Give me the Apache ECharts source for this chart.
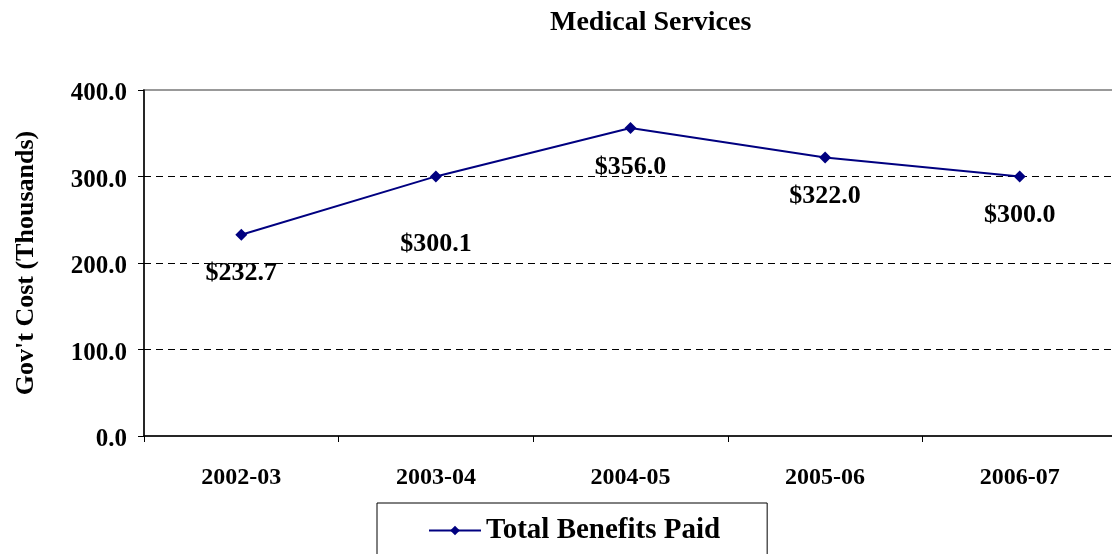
<!DOCTYPE html>
<html>
<head>
<meta charset="utf-8">
<script src="https://cdn.jsdelivr.net/npm/echarts@6/dist/echarts.min.js"></script>
<style>
  html, body { margin: 0; padding: 0; background: #fff; }
  #chart { width: 1112px; height: 554px; }
</style>
</head>
<body>
<div id="chart"></div>
<script>
  // data
  var years = ['2002-03', '2003-04', '2004-05', '2005-06', '2006-07'];
  var benefits = [232.7, 300.1, 356.0, 322.0, 300.0];
  var gridValues = [100, 200, 300];

  var font = "'Liberation Serif', 'Times New Roman', serif";

  // the 2003-04 label sits lower in the original
  var seriesData = benefits.map(function (v, i) {
    var item = { value: v };
    if (i === 1) item.label = { distance: 49 };
    return item;
  });

  var option = {
    animation: false,
    title: {
      text: 'Medical Services',
      left: 545,
      top: 4,
      textStyle: { fontFamily: font, fontSize: 28, fontWeight: 'bold', color: '#000' }
    },
    legend: {
      data: ['Total Benefits Paid'],
      left: 377,
      top: 503,
      padding: [13, 47, 12, 51],
      itemWidth: 52,
      itemHeight: 12,
      itemGap: 5,
      borderColor: '#000',
      borderWidth: 1,
      textStyle: { fontFamily: font, fontSize: 29, fontWeight: 'bold', color: '#000' }
    },
    grid: {
      left: 144, width: 973, top: 90, height: 346,
      outerBoundsMode: 'none',
      show: true, borderColor: '#999', borderWidth: 2
    },
    xAxis: {
      type: 'category',
      data: years,
      boundaryGap: true,
      axisLine: { lineStyle: { color: '#000', width: 1.5 } },
      axisTick: { show: true, length: 6, lineStyle: { color: '#000' } },
      axisLabel: { margin: 30, fontFamily: font, fontSize: 24, fontWeight: 'bold', color: '#000' },
      splitLine: { show: false }
    },
    yAxis: {
      type: 'value',
      min: 0, max: 400, interval: 100,
      name: "Gov't Cost (Thousands)",
      nameLocation: 'middle',
      nameGap: 105,
      nameTextStyle: { fontFamily: font, fontSize: 26, fontWeight: 'bold', color: '#000' },
      axisLine: { show: true, lineStyle: { color: '#000', width: 1.5 } },
      axisTick: { show: true, length: 6, lineStyle: { color: '#000' } },
      axisLabel: {
        margin: 17,
        formatter: function (v) { return '{t|' + v.toFixed(1) + '}'; },
        rich: {
          t: {
            padding: [8, 0, 0, 0],
            fontFamily: font, fontSize: 25, fontWeight: 'bold', color: '#000'
          }
        }
      },
      splitLine: { show: false }
    },
    series: [{
      name: 'Total Benefits Paid',
      type: 'line',
      data: seriesData,
      symbol: 'diamond',
      symbolSize: 12,
      itemStyle: { color: '#000080' },
      lineStyle: { color: '#000080', width: 2 },
      label: {
        show: true,
        position: 'bottom',
        distance: 20,
        fontFamily: font, fontSize: 26, fontWeight: 'bold', color: '#000',
        formatter: function (p) { return '$' + p.value.toFixed(1); }
      },
      markLine: {
        silent: true,
        symbol: 'none',
        label: { show: false },
        lineStyle: { color: '#000', type: [7, 5], width: 1 },
        data: gridValues.map(function (v) { return { yAxis: v }; }),
        z: 1
      },
      z: 3
    }]
  };

  echarts.init(document.getElementById('chart')).setOption(option);
</script>
</body>
</html>
